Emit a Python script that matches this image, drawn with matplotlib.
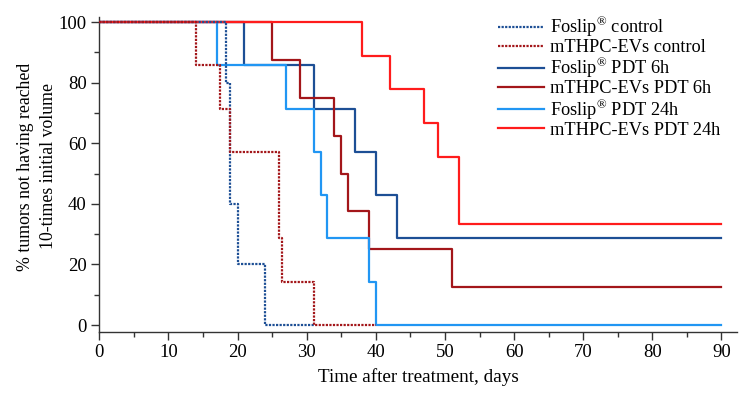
import matplotlib.pyplot as plt
from matplotlib.ticker import MultipleLocator

plt.rcParams['font.family'] = ['Liberation Serif', 'DejaVu Serif']
plt.rcParams['mathtext.fontset'] = 'custom'
plt.rcParams['mathtext.rm'] = 'Liberation Serif'

# Kaplan-Meier style curves: days and % tumors not having reached 10x volume
foslip_ctrl_t = [0, 18.4, 18.9, 20, 24, 31]
foslip_ctrl_s = [100, 80, 40, 20, 0, 0]

evs_ctrl_t = [0, 14, 17.4, 18.9, 26, 26.5, 31, 40]
evs_ctrl_s = [100, 85.7, 71.4, 57.1, 28.6, 14.3, 0, 0]

foslip_6h_t = [0, 21, 31, 37, 40, 43, 90]
foslip_6h_s = [100, 85.7, 71.4, 57.1, 42.9, 28.6, 28.6]

evs_6h_t = [0, 25, 29, 34, 35, 36, 39, 51, 90]
evs_6h_s = [100, 87.5, 75, 62.5, 50, 37.5, 25, 12.5, 12.5]

foslip_24h_t = [0, 17, 27, 31, 32, 33, 39, 40, 90]
foslip_24h_s = [100, 85.7, 71.4, 57.1, 42.9, 28.6, 14.3, 0, 0]

evs_24h_t = [0, 38, 42, 47, 49, 52, 90]
evs_24h_s = [100, 88.9, 77.8, 66.7, 55.6, 33.3, 33.3]

reg = r'$^{\mathrm{®}}$'
labels = ['Foslip' + reg + ' control', 'mTHPC-EVs control',
          'Foslip' + reg + ' PDT 6h', 'mTHPC-EVs PDT 6h',
          'Foslip' + reg + ' PDT 24h', 'mTHPC-EVs PDT 24h']

c_dblue = '#1d4f95'
c_dred = '#a3161a'
c_lblue = '#2196f3'
c_red = '#ff1c1c'

fig = plt.figure(figsize=(7.47, 3.93), dpi=100)
ax = fig.add_axes([0.1329, 0.156, 0.8533, 0.8011])

lw = 1.6
h1, = ax.step(foslip_ctrl_t, foslip_ctrl_s, where='post', color=c_dblue, lw=lw, ls=(0, (1, 0.6)), zorder=4)
h2, = ax.step(evs_ctrl_t, evs_ctrl_s, where='post', color=c_dred, lw=lw, ls=(0, (1, 0.6)), zorder=5)
h3, = ax.step(foslip_6h_t, foslip_6h_s, where='post', color=c_dblue, lw=lw, zorder=2)
h4, = ax.step(evs_6h_t, evs_6h_s, where='post', color=c_dred, lw=lw, zorder=2)
h5, = ax.step(foslip_24h_t, foslip_24h_s, where='post', color=c_lblue, lw=lw, zorder=3)
h6, = ax.step(evs_24h_t, evs_24h_s, where='post', color=c_red, lw=lw, zorder=3)

ax.set_xlim(0, 92.2)
ax.set_ylim(-2.2, 101.7)
ax.xaxis.set_major_locator(MultipleLocator(10))
ax.xaxis.set_minor_locator(MultipleLocator(5))
ax.yaxis.set_major_locator(MultipleLocator(20))
ax.yaxis.set_minor_locator(MultipleLocator(10))
ax.tick_params(which='major', length=5.5, width=1, labelsize=13.5, color='#333333')
ax.tick_params(which='minor', length=3.5, width=1, color='#333333')
for s in ['top', 'right']:
    ax.spines[s].set_visible(False)
for s in ['left', 'bottom']:
    ax.spines[s].set_linewidth(1)
    ax.spines[s].set_color('#333333')

ax.set_xlabel('Time after treatment, days', fontsize=13.8, labelpad=5)
ax.set_ylabel('% tumors not having reached\n10-times initial volume', fontsize=12.8,
              linespacing=1.45, labelpad=1)
ax.yaxis.label.set_y(0.525)

ax.legend([h1, h2, h3, h4, h5, h6], labels, loc='upper left', frameon=False,
          fontsize=13.2, handlelength=2.5, handletextpad=0.35, labelspacing=0.0,
          borderpad=0, borderaxespad=0, bbox_to_anchor=(0.6255, 1.005))

fig.savefig('out.png', dpi=100)
